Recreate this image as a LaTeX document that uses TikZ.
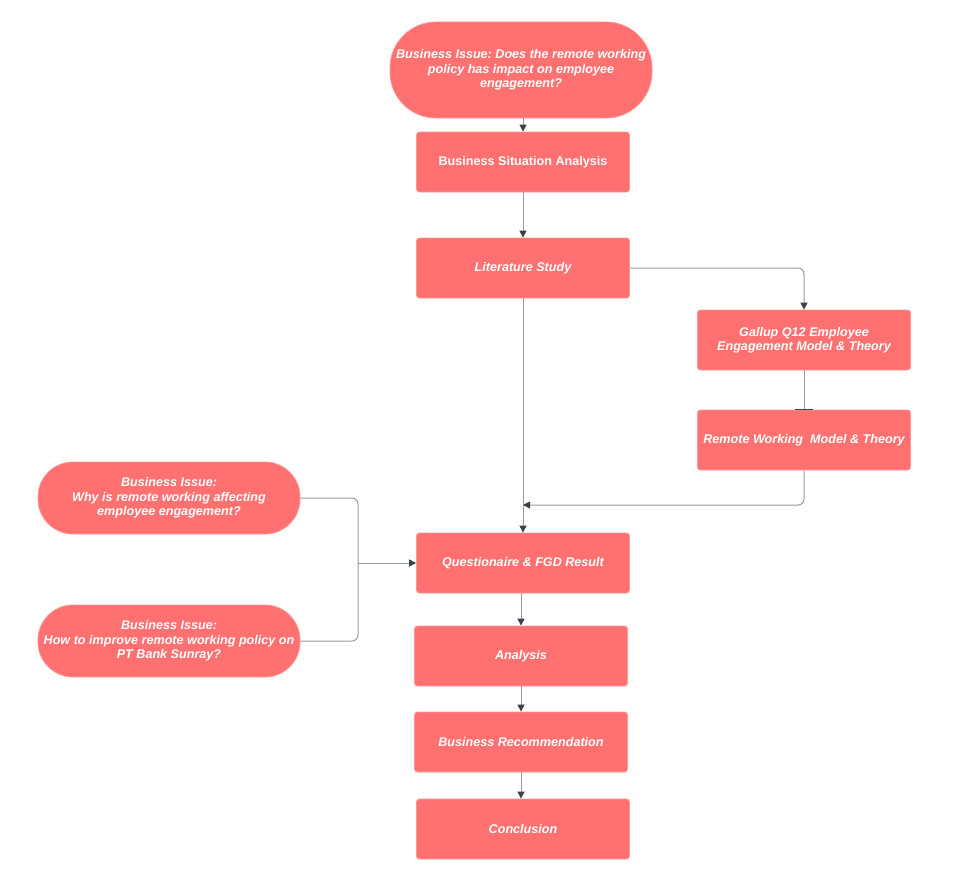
\documentclass[tikz,border=0pt]{standalone}
\usepackage{fontspec}
\setmainfont{Liberation Sans}
\usetikzlibrary{arrows.meta}
\definecolor{boxfill}{RGB}{255,112,112}
\definecolor{boxedge}{RGB}{255,150,150}
\definecolor{linec}{RGB}{150,155,162}
\definecolor{tipc}{RGB}{58,65,74}
\frenchspacing
\tikzset{
  box/.style={draw=boxedge, fill=boxfill, line width=0.8pt, rounded corners=3pt,
    minimum width=213pt, minimum height=60pt, text=white, align=center,
    font=\fontsize{12.6}{14.5}\selectfont\bfseries\itshape, inner sep=2pt},
  pill/.style={draw=boxedge, fill=boxfill, line width=0.8pt, rectangle,
    minimum width=262pt, text=white, align=center,
    font=\fontsize{12.6}{14.5}\selectfont\bfseries\itshape, inner sep=0pt},
  conn/.style={draw=linec, line width=1pt, rounded corners=6pt},
  arr/.style={conn, -{Triangle[length=7pt,width=7pt,color=tipc]}},
  tee/.style={conn, -{Bar[width=18pt,line width=1pt,color=tipc]}},
}
\begin{document}
\begin{tikzpicture}[x=1pt,y=-1pt]
\useasboundingbox (0,0) rectangle (975,891);
\node[pill, minimum height=96pt, rounded corners=46pt] (top) at (521,70) {Business Issue: Does the remote working\\policy has impact on employee\\engagement?};
\node[box, font=\fontsize{12.6}{14.5}\selectfont\bfseries] (bsa) at (523,162) {Business Situation Analysis};
\node[box] (lit) at (523,268) {Literature Study};
\node[box] (gal) at (804,340) {Gallup Q12 Employee\\Engagement Model \& Theory};
\node[box] (rem) at (804,440) {Remote Working\ \ Model \& Theory};
\node[box] (que) at (523,563) {Questionaire \& FGD Result};
\node[box] (ana) at (521,656) {Analysis};
\node[box] (rec) at (521,742) {Business Recommendation};
\node[box] (con) at (523,829) {Conclusion};
\node[pill, minimum height=72pt, rounded corners=35pt] (iss1) at (169,498) {Business Issue:\\Why is remote working affecting\\employee engagement?};
\node[pill, minimum height=72pt, rounded corners=35pt] (iss2) at (169,641) {Business Issue:\\How to improve remote working policy on\\PT Bank Sunray?};
\coordinate (j1) at (523,505);
\coordinate (j2) at (358,563);
\draw[arr] (top.south -| bsa.north) -- (bsa.north);
\draw[arr] (bsa) -- (lit);
\draw[arr] (lit.east) -| (gal.north);
\draw[tee] (gal) -- (rem);
\draw[arr] (lit.south) -- (que.north);
\draw[arr] (rem.south) |- (j1);
\draw[conn] (iss1.east) -| (j2);
\draw[conn] (iss2.east) -| (j2);
\draw[arr] (j2) -- (que.west);
\draw[arr] (que.south -| ana.north) -- (ana.north);
\draw[arr] (ana) -- (rec);
\draw[arr] (rec.south) -- (rec.south |- con.north);
\end{tikzpicture}
\end{document}
